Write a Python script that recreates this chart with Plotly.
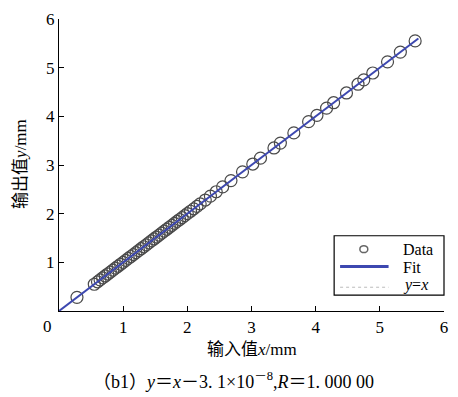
import plotly.graph_objects as go

# Data
data_x = [0.28, 0.55, 0.60, 0.64, 0.68, 0.72, 0.76, 0.80, 0.84, 0.88, 0.92, 0.96, 1.00,
          1.04, 1.08, 1.12, 1.16, 1.20, 1.24, 1.28, 1.32, 1.36, 1.40, 1.44, 1.48, 1.52,
          1.56, 1.60, 1.64, 1.68, 1.72, 1.76, 1.80, 1.84, 1.88, 1.92, 1.96, 2.00, 2.05,
          2.10, 2.15, 2.20, 2.28, 2.36, 2.45, 2.55, 2.68, 2.86, 3.02, 3.14, 3.35, 3.45,
          3.66, 3.89, 4.02, 4.17, 4.28, 4.48, 4.66, 4.75, 4.89, 5.12, 5.32, 5.55]
data_y = list(data_x)
fit_x = [0.0, 5.6]
fit_y = [0.0, 5.6]
ref_x = [0.0, 5.6]
ref_y = [0.0, 5.6]
x_ticks = [1, 2, 3, 4, 5, 6]
y_ticks = [1, 2, 3, 4, 5, 6]
legend_names = ["Data", "Fit", "<i>y</i>=<i>x</i>"]

serif = "Liberation Serif, Times New Roman, serif"
cjk = "Liberation Serif, Noto Sans CJK SC, serif"

L, R, T, B, W, H = 59, 10, 16, 86, 458, 397
PW, PH = W - L - R, H - T - B


def px(x):
    return (x - L) / PW


def py(y):
    return (H - B - y) / PH


fig = go.Figure()
fig.add_trace(go.Scatter(x=ref_x, y=ref_y, mode="lines", name=legend_names[2],
                         line=dict(color="#b0b0b0", width=1, dash="dot")))
fig.add_trace(go.Scatter(x=data_x, y=data_y, mode="markers", name=legend_names[0],
                         marker=dict(symbol="circle-open", size=12,
                                     color="#4a4a4a", line=dict(width=1.2))))
fig.add_trace(go.Scatter(x=fit_x, y=fit_y, mode="lines", name=legend_names[1],
                         line=dict(color="#3d48b0", width=2)))

fig.update_layout(
    width=W, height=H,
    margin=dict(l=L, r=R, t=T, b=B),
    paper_bgcolor="white", plot_bgcolor="white",
    showlegend=False,
    font=dict(family=serif, size=17, color="black"),
)

fig.update_xaxes(range=[0, 6], tickvals=x_ticks, ticktext=[str(v) for v in x_ticks],
                 ticks="inside", ticklen=5, tickcolor="black", showline=True,
                 linecolor="black", linewidth=1.2, showgrid=False, zeroline=False,
                 tickfont=dict(family=serif, size=17, color="black"))
fig.update_yaxes(range=[0, 6], tickvals=y_ticks, ticktext=[str(v) for v in y_ticks],
                 ticks="inside", ticklen=5, tickcolor="black", showline=True,
                 linecolor="black", linewidth=1.2, showgrid=False, zeroline=False,
                 tickfont=dict(family=serif, size=17, color="black"))

# Manual legend box
fig.add_shape(type="rect", xref="paper", yref="paper",
              x0=px(337), x1=px(448), y0=py(295), y1=py(235),
              line=dict(color="black", width=1.2), fillcolor="white", layer="above")
fig.add_shape(type="circle", xref="paper", yref="paper",
              x0=px(363), x1=px(371), y0=py(252), y1=py(245),
              line=dict(color="#666666", width=1.5), layer="above")
fig.add_shape(type="line", xref="paper", yref="paper",
              x0=px(343), x1=px(392), y0=py(266), y1=py(266),
              line=dict(color="#3d48b0", width=3), layer="above")
fig.add_shape(type="line", xref="paper", yref="paper",
              x0=px(343), x1=px(392), y0=py(287), y1=py(287),
              line=dict(color="#bbbbbb", width=1, dash="dot"), layer="above")
for name, ypix in zip(legend_names, [249, 267, 285]):
    fig.add_annotation(x=px(405), y=py(ypix), xref="paper", yref="paper",
                       xanchor="left", yanchor="middle", text=name, showarrow=False,
                       font=dict(family=serif, size=16, color="black"))

fig.add_annotation(x=px(47), y=py(327), xref="paper", yref="paper", text="0",
                   xanchor="center", yanchor="middle",
                   showarrow=False, font=dict(family=serif, size=17, color="black"))
fig.add_annotation(x=px(254), y=py(350), xref="paper", yref="paper",
                   xanchor="center", yanchor="middle",
                   text="输入值<i>x</i>/mm", showarrow=False,
                   font=dict(family=cjk, size=17, color="black"))
fig.add_annotation(x=px(20), y=py(162), xref="paper", yref="paper",
                   xanchor="center", yanchor="middle",
                   text="输出值<i>y</i>/mm", textangle=-90, showarrow=False,
                   font=dict(family=cjk, size=17, color="black"))
fig.add_annotation(x=px(235), y=py(381), xref="paper", yref="paper",
                   xanchor="center", yanchor="middle",
                   text="（b1）<i>y</i>＝<i>x</i>－3. 1×10<sup>－8</sup>,<i>R</i>＝1. 000 00",
                   showarrow=False,
                   font=dict(family=cjk, size=18, color="black"))

fig.write_html("out.html")
